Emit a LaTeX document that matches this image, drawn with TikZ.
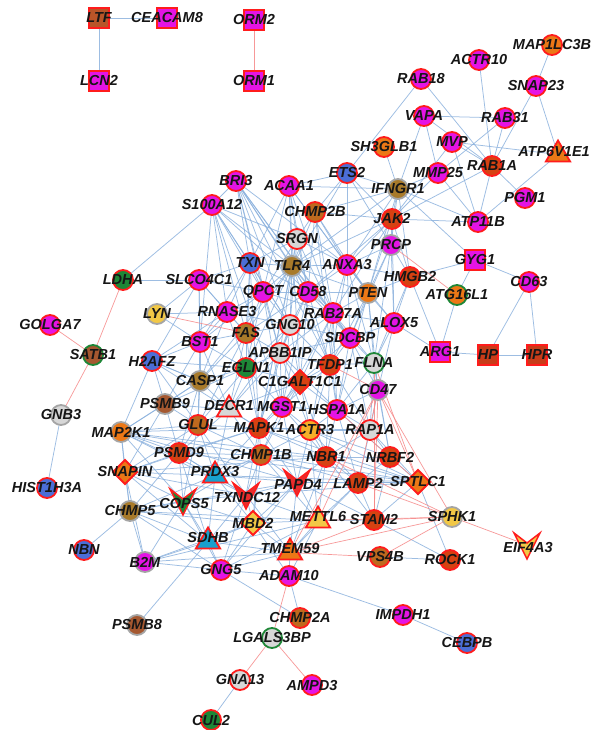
\documentclass[tikz,border=0pt]{standalone}
\usepackage{fontspec}
\setsansfont{Liberation Sans}
\usetikzlibrary{shapes.geometric}
\pgfdeclarelayer{bg}\pgfdeclarelayer{fg}
\pgfsetlayers{bg,main,fg}
\definecolor{MG}{RGB}{228,20,228}
\definecolor{RD}{RGB}{255,28,28}
\definecolor{OR}{RGB}{236,120,22}
\definecolor{OD}{RGB}{214,66,18}
\definecolor{BO}{RGB}{190,105,30}
\definecolor{KH}{RGB}{168,122,42}
\definecolor{BR}{RGB}{165,88,48}
\definecolor{BL}{RGB}{75,110,215}
\definecolor{CY}{RGB}{25,160,205}
\definecolor{GN}{RGB}{30,135,55}
\definecolor{LG}{RGB}{215,215,215}
\definecolor{GB}{RGB}{165,165,165}
\definecolor{YL}{RGB}{242,200,70}
\definecolor{YO}{RGB}{245,175,40}
\definecolor{SQ}{RGB}{200,60,25}
\definecolor{LT}{RGB}{185,85,40}
\definecolor{VR}{RGB}{232,45,45}
\definecolor{TX}{RGB}{22,22,22}
\definecolor{EB}{RGB}{140,178,222}
\definecolor{ER}{RGB}{246,135,135}
\tikzset{
 nd/.style={line width=1.8pt, inner sep=0pt, outer sep=0pt},
 cir/.style={nd, circle, minimum size=20pt},
 sqr/.style={nd, rectangle, minimum size=20pt},
 tri/.style={nd, regular polygon, regular polygon sides=3, minimum size=28pt},
 dia/.style={nd, diamond, minimum size=24pt},
 lab/.style={font=\sffamily\bfseries\itshape\fontsize{14.5}{14.5}\selectfont, text=TX, inner sep=0pt},
 eb/.style={draw=EB, line width=0.75pt, opacity=0.85},
 er/.style={draw=ER, line width=0.7pt, opacity=0.85},
 smr/.style={fill=MG, draw=RD},
 smg/.style={fill=MG, draw=GB},
 sor/.style={fill=OR, draw=RD},
 sog/.style={fill=OR, draw=GB},
 sodr/.style={fill=OD, draw=RD},
 sbor/.style={fill=BO, draw=RD},
 skhg/.style={fill=KH, draw=GB},
 skhr/.style={fill=KH, draw=RD},
 sbrg/.style={fill=BR, draw=GB},
 sbrgn/.style={fill=BR, draw=GN},
 sblr/.style={fill=BL, draw=RD},
 slgr/.style={fill=LG, draw=RD},
 slgg/.style={fill=LG, draw=GN},
 slgb/.style={fill=LG, draw=GB},
 sgnr/.style={fill=GN, draw=RD},
 sogn/.style={fill=OR, draw=GN},
 sylg/.style={fill=YL, draw=GB},
 sylr/.style={fill=YL, draw=RD},
 syor/.style={fill=YO, draw=RD},
 scyr/.style={fill=CY, draw=RD},
 shpr/.style={fill=SQ, draw=RD},
 sltr/.style={fill=LT, draw=RD},
 svr/.style={fill=VR, draw=RD},
}
\newcommand\lbl[3]{\begin{pgfonlayer}{fg}\node[lab] at (#2,#3) {#1};\end{pgfonlayer}}
\newcommand\gn[4]{\node[cir,#4] (#1) at (#2,#3) {};\lbl{#1}{#2}{#3}}
\newcommand\gs[4]{\node[sqr,#4] (#1) at (#2,#3) {};\lbl{#1}{#2}{#3}}
\newcommand\gd[4]{\node[dia,#4] (#1) at (#2,#3) {};\lbl{#1}{#2}{#3}}
\newcommand\gt[4]{\node[tri,#4] (#1) at (#2,#3+3.5) {};\lbl{#1}{#2}{#3}}
\newcommand\gv[4]{\coordinate (#1) at (#2,#3);
 \filldraw[#4, line width=1.5pt, line join=miter, miter limit=6] (#2-13,#3-12) -- (#2,#3-2) -- (#2+13,#3-12) -- (#2,#3+14) -- cycle;
 \lbl{#1}{#2+1}{#3+3}}
\newcommand\hub[3]{\foreach \t in {#3} {\draw[#1] (#2) -- (\t);}}
\begin{document}
\begin{tikzpicture}[x=1pt,y=-1pt]
\useasboundingbox (0,0) rectangle (592,730);
\begin{pgfonlayer}{bg}\fill[white] (0,0) rectangle (592,730);\end{pgfonlayer}
% squares
\gs{LTF}{99}{18}{sltr}
\gs{CEACAM8}{167}{18}{smr}
\gs{ORM2}{254}{20}{smr}
\gs{LCN2}{99}{81}{smr}
\gs{ORM1}{254}{81}{smr}
\gs{GYG1}{475}{260}{smr}
\gs{ARG1}{440}{352}{smr}
\gs{HP}{488}{355}{shpr}
\gs{HPR}{537}{355}{shpr}
% circles
\gn{RAB18}{421}{79}{smr}
\gn{ACTR10}{479}{60}{smr}
\gn{MAP1LC3B}{552}{45}{sor}
\gn{SNAP23}{536}{86}{smr}
\gn{VAPA}{424}{116}{smr}
\gn{RAB31}{505}{118}{smr}
\gn{SH3GLB1}{384}{147}{sor}
\gn{MVP}{452}{142}{smr}
\gn{ETS2}{347}{173}{sblr}
\gn{MMP25}{438}{173}{smr}
\gn{RAB1A}{492}{166}{sodr}
\gn{PGM1}{525}{198}{smr}
\gn{BRI3}{236}{181}{smr}
\gn{ACAA1}{289}{186}{smr}
\gn{IFNGR1}{398}{189}{skhg}
\gn{S100A12}{212}{205}{smr}
\gn{CHMP2B}{315}{212}{sbor}
\gn{JAK2}{392}{219}{sodr}
\gn{ATP11B}{478}{222}{smr}
\gn{SRGN}{297}{239}{slgr}
\gn{PRCP}{391}{245}{smg}
\gn{TXN}{250}{263}{sblr}
\gn{TLR4}{292}{266}{skhg}
\gn{ANXA3}{347}{265}{smr}
\gn{HMGB2}{410}{277}{sodr}
\gn{CD63}{529}{282}{smr}
\gn{LDHA}{123}{280}{sgnr}
\gn{SLCO4C1}{199}{280}{smr}
\gn{ATG16L1}{457}{295}{sogn}
\gn{LYN}{157}{314}{sylg}
\gn{RNASE3}{227}{312}{smr}
\gn{QPCT}{263}{292}{smr}
\gn{CD58}{308}{292}{smr}
\gn{RAB27A}{333}{313}{smr}
\gn{PTEN}{368}{293}{sog}
\gn{ALOX5}{394}{323}{smr}
\gn{GOLGA7}{50}{325}{smr}
\gn{FAS}{246}{333}{skhr}
\gn{GNG10}{290}{325}{slgr}
\gn{SDCBP}{350}{338}{smr}
\gn{BST1}{200}{342}{smr}
\gn{APBB1IP}{280}{353}{slgr}
\gn{TFDP1}{330}{365}{sodr}
\gn{SATB1}{93}{355}{sbrgn}
\gn{H2AFZ}{152}{361}{sblr}
\gn{EGLN1}{246}{368}{sgnr}
\gn{FLNA}{374}{363}{slgg}
\gn{CASP1}{200}{381}{skhg}
\gn{CD47}{378}{390}{smg}
\gn{PSMB9}{165}{404}{sbrg}
\gn{MGST1}{282}{407}{smr}
\gn{HSPA1A}{337}{410}{smr}
\gn{GNB3}{61}{415}{slgb}
\gn{MAP2K1}{121}{432}{sog}
\gn{GLUL}{198}{425}{sbor}
\gn{MAPK1}{259}{428}{sodr}
\gn{ACTR3}{310}{430}{syor}
\gn{RAP1A}{370}{430}{slgr}
\gn{PSMD9}{179}{453}{sodr}
\gn{CHMP1B}{261}{455}{sbor}
\gn{NBR1}{326}{457}{sodr}
\gn{NRBF2}{390}{457}{sodr}
\gn{LAMP2}{358}{483}{sodr}
\gn{HIST1H3A}{47}{488}{sblr}
\gn{CHMP5}{130}{511}{skhg}
\gn{STAM2}{374}{520}{sodr}
\gn{SPHK1}{452}{517}{sylg}
\gn{NBN}{84}{550}{sblr}
\gn{B2M}{145}{562}{smg}
\gn{GNG5}{221}{570}{smr}
\gn{ADAM10}{289}{576}{smr}
\gn{VPS4B}{380}{557}{sbor}
\gn{ROCK1}{450}{560}{sodr}
\gn{PSMB8}{137}{625}{sbrg}
\gn{CHMP2A}{300}{618}{sbor}
\gn{IMPDH1}{403}{615}{smr}
\gn{LGALS3BP}{272}{638}{slgg}
\gn{CEBPB}{467}{643}{sblr}
\gn{GNA13}{240}{680}{slgr}
\gn{AMPD3}{312}{685}{smr}
\gn{CUL2}{211}{720}{sgnr}
% diamonds
\gd{SNAPIN}{125}{472}{sor}
\gd{C1GALT1C1}{300}{382}{sodr}
\gd{MBD2}{253}{523}{sylr}
\gd{SPTLC1}{418}{482}{sor}
% triangles
\node[tri,sor] (ATP6V1E1) at (558,154.5) {};
\lbl{ATP6V1E1}{554}{152}
\gt{DECR1}{229}{406}{slgr}
\gt{PRDX3}{215}{472}{scyr}
\gt{METTL6}{318}{517}{sylr}
\gt{SDHB}{208}{538}{scyr}
\gt{TMEM59}{290}{549}{sor}
% V shapes
\gv{PAPD4}{297}{482}{svr}
\gv{TXNDC12}{246}{495}{svr}
\gv{COPS5}{183}{501}{sgnr}
\gv{EIF4A3}{527}{545}{sylr}
% edges
\begin{pgfonlayer}{bg}
\hub{eb}{LTF}{CEACAM8,LCN2}
\hub{eb}{RAB18}{ETS2,RAB1A}
\hub{eb}{ACTR10}{RAB1A}
\hub{eb}{MAP1LC3B}{SNAP23}
\hub{eb}{SNAP23}{RAB1A,ATP6V1E1}
\hub{eb}{VAPA}{RAB31,MMP25,RAB1A,IFNGR1}
\hub{eb}{RAB31}{RAB1A,MMP25}
\hub{eb}{MVP}{RAB1A,ATP6V1E1,ATP11B,JAK2}
\hub{eb}{SH3GLB1}{IFNGR1}
\hub{eb}{ETS2}{IFNGR1,CHMP2B,ACAA1,JAK2,ANXA3,PRCP,TLR4}
\hub{eb}{MMP25}{JAK2,IFNGR1,ATP11B}
\hub{eb}{RAB1A}{ATP11B,JAK2,PGM1}
\hub{eb}{ATP6V1E1}{ATP11B}
\hub{eb}{IFNGR1}{ATP11B,GYG1,JAK2,PRCP,ANXA3,PTEN,TLR4,HMGB2}
\hub{eb}{JAK2}{ATP11B,PRCP,ANXA3,PTEN,HMGB2,TLR4,CD58,ALOX5,RAB27A}
\hub{eb}{GYG1}{HMGB2,ATG16L1,CD63}
\hub{eb}{CD63}{HP,HPR}
\hub{eb}{ARG1}{ATG16L1,HMGB2,ALOX5,HP}
\hub{eb}{HP}{HPR}
\hub{eb}{PRCP}{ANXA3,HMGB2,ALOX5,FLNA,PTEN,SDCBP}
\hub{eb}{HMGB2}{ALOX5,FLNA}
\hub{eb}{LDHA}{S100A12,SLCO4C1}
\hub{eb}{GNB3}{HIST1H3A}
\hub{eb}{LYN}{RNASE3,SLCO4C1,BST1}
\hub{eb}{BRI3}{S100A12,TXN,TLR4,QPCT,CD58,RAB27A,GNG10,SDCBP,ANXA3,APBB1IP,TFDP1}
\hub{eb}{S100A12}{TXN,TLR4,QPCT,CD58,GNG10,RNASE3,SRGN,BST1,FAS,MGST1}
\hub{eb}{ACAA1}{SRGN,TLR4,CD58,ANXA3,RAB27A,QPCT,TXN,PTEN,IFNGR1,C1GALT1C1}
\hub{eb}{CHMP2B}{SRGN,TLR4,ANXA3,PTEN,JAK2,IFNGR1,CD58,RAB27A,HSPA1A}
\hub{eb}{SRGN}{TLR4,ANXA3,CD58,TXN,QPCT,RAB27A,GNG10,MAPK1}
\hub{eb}{TXN}{TLR4,QPCT,CD58,SLCO4C1,RNASE3,FAS,GNG10,BST1,EGLN1,MAPK1}
\hub{eb}{TLR4}{ANXA3,QPCT,CD58,PTEN,RAB27A,GNG10,SDCBP,FAS,APBB1IP,TFDP1,MAPK1,EGLN1,CASP1}
\hub{eb}{ANXA3}{CD58,PTEN,RAB27A,SDCBP,ALOX5,FLNA,TFDP1,HMGB2}
\hub{eb}{SLCO4C1}{QPCT,RNASE3,BST1,H2AFZ,FAS,CASP1}
\hub{eb}{QPCT}{CD58,RNASE3,GNG10,FAS,APBB1IP,EGLN1,BST1,RAB27A,MGST1}
\hub{eb}{CD58}{PTEN,RAB27A,GNG10,SDCBP,APBB1IP,TFDP1,FAS,C1GALT1C1,MGST1}
\hub{eb}{PTEN}{RAB27A,SDCBP,ALOX5,HMGB2,FLNA,TFDP1,CD47,HSPA1A}
\hub{eb}{RNASE3}{FAS,BST1,GNG10,EGLN1,CASP1,H2AFZ}
\hub{eb}{RAB27A}{GNG10,SDCBP,APBB1IP,TFDP1,FLNA,C1GALT1C1,ALOX5,HSPA1A,MGST1,ACTR3}
\hub{eb}{ALOX5}{SDCBP,FLNA,CD47}
\hub{eb}{GNG10}{FAS,APBB1IP,EGLN1,SDCBP,TFDP1,C1GALT1C1,MGST1,MAPK1,DECR1}
\hub{eb}{FAS}{BST1,EGLN1,APBB1IP,CASP1,DECR1,GLUL,MAPK1}
\hub{eb}{BST1}{EGLN1,CASP1,H2AFZ,PSMB9,GLUL,DECR1}
\hub{eb}{SDCBP}{TFDP1,FLNA,APBB1IP,C1GALT1C1,CD47,HSPA1A,RAP1A}
\hub{eb}{APBB1IP}{TFDP1,EGLN1,C1GALT1C1,MGST1,MAPK1,ACTR3,DECR1,HSPA1A}
\hub{eb}{TFDP1}{FLNA,C1GALT1C1,HSPA1A,ACTR3,RAP1A,MGST1,NBR1}
\hub{eb}{FLNA}{CD47,HSPA1A,RAP1A,NRBF2}
\hub{eb}{EGLN1}{CASP1,C1GALT1C1,DECR1,MGST1,GLUL,MAPK1,PSMB9}
\hub{eb}{CASP1}{DECR1,PSMB9,GLUL,H2AFZ,MAP2K1,PSMD9}
\hub{eb}{C1GALT1C1}{MGST1,HSPA1A,ACTR3,MAPK1,DECR1,CHMP1B,NBR1}
\hub{eb}{CD47}{HSPA1A,RAP1A,NRBF2}
\hub{eb}{H2AFZ}{PSMB9,CASP1,MAP2K1,GLUL,EGLN1,MAPK1}
\hub{eb}{PSMB9}{DECR1,GLUL,MAP2K1,PSMD9,SNAPIN}
\hub{eb}{DECR1}{MGST1,GLUL,MAPK1,PSMD9,CHMP1B,PRDX3}
\hub{eb}{MGST1}{HSPA1A,MAPK1,ACTR3,CHMP1B,NBR1,PAPD4}
\hub{eb}{HSPA1A}{ACTR3,RAP1A,NBR1,NRBF2,LAMP2}
\hub{eb}{MAP2K1}{GLUL,PSMD9,SNAPIN,PRDX3,COPS5,MAPK1,CHMP1B,CHMP5,NBR1,PAPD4,TXNDC12}
\hub{eb}{GLUL}{MAPK1,PSMD9,CHMP1B,PRDX3,COPS5,TXNDC12,SNAPIN}
\hub{eb}{MAPK1}{ACTR3,CHMP1B,NBR1,PAPD4,PRDX3,TXNDC12,PSMD9,MBD2,RAP1A}
\hub{eb}{ACTR3}{RAP1A,NBR1,CHMP1B,PAPD4,LAMP2,METTL6,NRBF2}
\hub{eb}{RAP1A}{NBR1,NRBF2,LAMP2}
\hub{eb}{PSMD9}{CHMP1B,SNAPIN,PRDX3,COPS5,TXNDC12,CHMP5,SDHB}
\hub{eb}{CHMP1B}{NBR1,PAPD4,PRDX3,TXNDC12,MBD2,COPS5,LAMP2,METTL6}
\hub{eb}{NBR1}{NRBF2,PAPD4,LAMP2,METTL6,STAM2,TMEM59}
\hub{eb}{NRBF2}{LAMP2,STAM2}
\hub{eb}{SNAPIN}{PRDX3,COPS5,CHMP5,SDHB,B2M,TXNDC12,MAPK1,NBR1}
\hub{eb}{PRDX3}{COPS5,TXNDC12,PAPD4,SDHB,MBD2,CHMP5}
\hub{eb}{PAPD4}{LAMP2,TXNDC12,METTL6,MBD2,TMEM59,STAM2}
\hub{eb}{LAMP2}{STAM2,METTL6,TMEM59}
\hub{eb}{SPTLC1}{NRBF2,LAMP2,NBR1,CHMP1B,PAPD4,TXNDC12,PRDX3,MAPK1,PSMD9,STAM2,ROCK1,ACTR3,RAP1A}
\hub{eb}{COPS5}{TXNDC12,CHMP5,SDHB,MBD2,B2M,GNG5}
\hub{eb}{TXNDC12}{MBD2,SDHB,METTL6,TMEM59,GNG5}
\hub{eb}{METTL6}{MBD2,STAM2,TMEM59,GNG5,ADAM10}
\hub{eb}{CHMP5}{NBN,SDHB,B2M,GNG5,PAPD4,METTL6,MBD2}
\hub{eb}{MBD2}{SDHB,TMEM59,GNG5,ADAM10}
\hub{eb}{STAM2}{ROCK1}
\hub{eb}{SDHB}{B2M,GNG5,TMEM59,PSMB8}
\hub{eb}{B2M}{GNG5,TMEM59,METTL6,MBD2}
\hub{eb}{GNG5}{TMEM59,ADAM10,CHMP2A,PAPD4}
\hub{eb}{TMEM59}{ADAM10}
\hub{eb}{VPS4B}{ROCK1}
\hub{eb}{ADAM10}{CHMP2A,IMPDH1}
\hub{eb}{IMPDH1}{CEBPB}
\hub{eb}{GNA13}{CUL2}
\hub{er}{ORM2}{ORM1}
\hub{er}{SATB1}{LDHA,GOLGA7,GNB3}
\hub{er}{LYN}{FAS}
\hub{er}{PRCP}{ATG16L1}
\hub{er}{CD47}{SPTLC1,LAMP2,STAM2,METTL6,TMEM59,TFDP1,SPHK1}
\hub{er}{FLNA}{SPTLC1,STAM2}
\hub{er}{SPHK1}{STAM2,LAMP2,METTL6,TMEM59,VPS4B,EIF4A3,NBR1}
\hub{er}{STAM2}{TMEM59}
\hub{er}{VPS4B}{TMEM59}
\hub{er}{LGALS3BP}{ADAM10,GNA13,AMPD3}
\hub{er}{HSPA1A}{SPTLC1}
\end{pgfonlayer}
\end{tikzpicture}
\end{document}
